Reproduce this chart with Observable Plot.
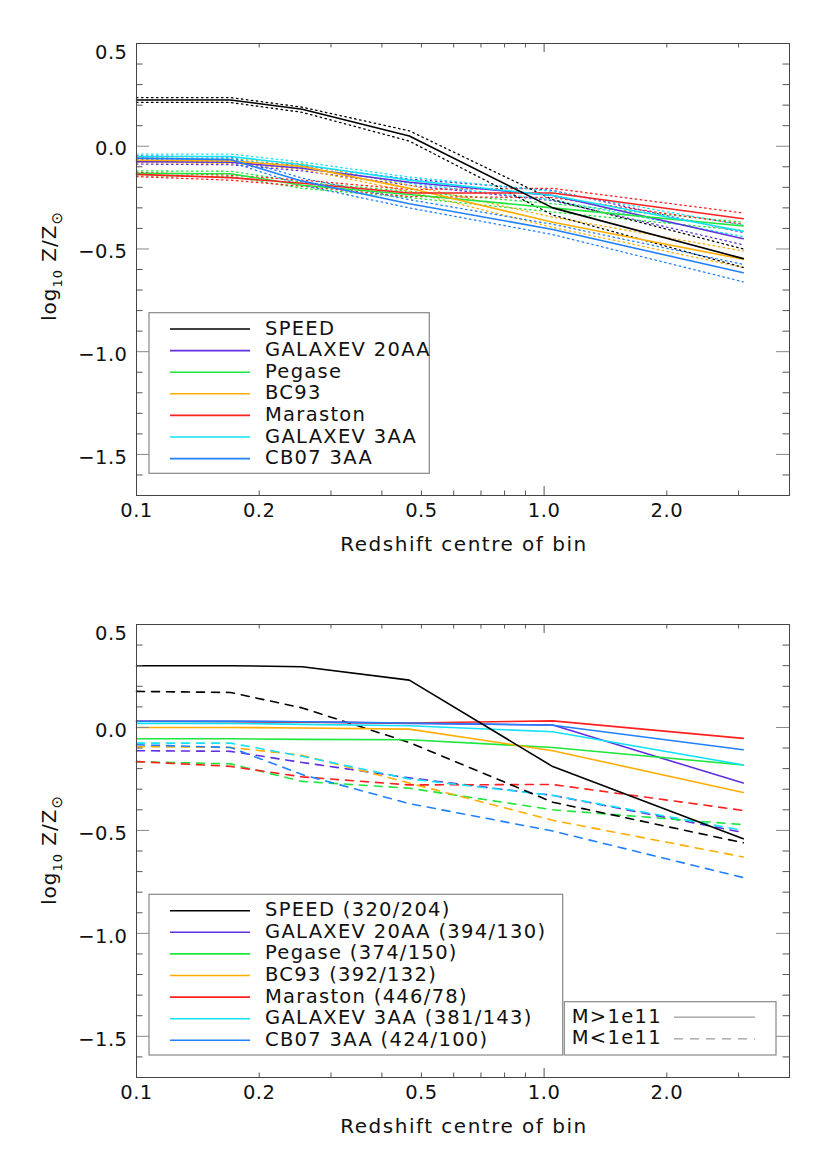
<!DOCTYPE html>
<html><head><meta charset="utf-8">
<script src="https://cdn.jsdelivr.net/npm/d3@7"></script>
<script src="https://cdn.jsdelivr.net/npm/@observablehq/plot@0.6"></script>
<style>
body{margin:0;background:#fff;}
#chart svg{display:block;}
</style></head><body><div id="chart"></div>
<script>
// ---------- data ----------
const redshift = [0.1, 0.17, 0.255, 0.467, 1.05, 3.08];
const models = ["SPEED", "GALAXEV 20AA", "Pegase", "BC93", "Maraston", "GALAXEV 3AA", "CB07 3AA"];
const modelColors = ["#000000", "#5f2fe2", "#1ee63c", "#ffad00", "#ff2020", "#12e2f8", "#2080ff"];
const countsHigh = [320, 394, 374, 392, 446, 381, 424];
const countsLow = [204, 130, 150, 132, 78, 143, 100];
const massLabels = ["M>1e11", "M<1e11"];
const xTickLabels = [0.1, 0.2, 0.5, 1.0, 2.0];
const xMinorTicks = [0.2, 0.3, 0.4, 0.5, 0.6, 0.7, 0.8, 0.9, 2, 3];
const xMajorTicks = [1];
const yTickLabels = [0, -0.5, -1, -1.5];
const yTopLabel = [0.5];
const yMajorTicks = [0.5, 0, -0.5, -1, -1.5];
const yMinorTicks = [0.4, 0.3, 0.2, 0.1, -0.1, -0.2, -0.3, -0.4, -0.6, -0.7, -0.8, -0.9, -1.1, -1.2, -1.3, -1.4, -1.6];

// top panel: all galaxies (solid = mean, dotted = error band)
const top_speed      = [0.225, 0.225, 0.18, 0.05, -0.30, -0.547];
const top_speed_hi   = [0.237, 0.237, 0.19, 0.075, -0.26, -0.50];
const top_speed_lo   = [0.213, 0.213, 0.165, 0.025, -0.335, -0.59];
const top_galaxev20    = [-0.075, -0.078, -0.107, -0.175, -0.24, -0.45];
const top_galaxev20_hi = [-0.065, -0.068, -0.095, -0.16, -0.215, -0.42];
const top_galaxev20_lo = [-0.087, -0.09, -0.12, -0.19, -0.265, -0.48];
const top_pegase    = [-0.132, -0.134, -0.19, -0.235, -0.30, -0.388];
const top_pegase_hi = [-0.12, -0.122, -0.175, -0.22, -0.28, -0.37];
const top_pegase_lo = [-0.145, -0.147, -0.205, -0.25, -0.32, -0.41];
const top_bc93    = [-0.068, -0.072, -0.098, -0.205, -0.37, -0.55];
const top_bc93_hi = [-0.056, -0.06, -0.085, -0.19, -0.345, -0.51];
const top_bc93_lo = [-0.08, -0.084, -0.112, -0.22, -0.395, -0.59];
const top_maraston    = [-0.137, -0.153, -0.18, -0.228, -0.228, -0.353];
const top_maraston_hi = [-0.127, -0.141, -0.165, -0.21, -0.205, -0.325];
const top_maraston_lo = [-0.148, -0.165, -0.195, -0.245, -0.25, -0.38];
const top_galaxev3    = [-0.05, -0.05, -0.09, -0.165, -0.24, -0.414];
const top_galaxev3_hi = [-0.038, -0.038, -0.077, -0.15, -0.22, -0.385];
const top_galaxev3_lo = [-0.062, -0.062, -0.103, -0.18, -0.262, -0.44];
const top_cb07    = [-0.058, -0.065, -0.17, -0.28, -0.405, -0.616];
const top_cb07_hi = [-0.046, -0.053, -0.155, -0.26, -0.38, -0.575];
const top_cb07_lo = [-0.07, -0.077, -0.19, -0.30, -0.43, -0.66];

// bottom panel: M>1e11 (solid) and M<1e11 (dashed)
const high_speed     = [0.30, 0.30, 0.295, 0.23, -0.19, -0.54];
const high_galaxev20 = [0.03, 0.03, 0.027, 0.02, 0.012, -0.27];
const high_pegase    = [-0.055, -0.055, -0.058, -0.06, -0.097, -0.182];
const high_bc93      = [0.0, 0.0, -0.003, -0.008, -0.113, -0.316];
const high_maraston  = [0.03, 0.028, 0.025, 0.022, 0.032, -0.053];
const high_galaxev3  = [0.02, 0.02, 0.015, 0.008, -0.021, -0.182];
const high_cb07      = [0.03, 0.03, 0.028, 0.022, 0.011, -0.108];
const low_speed      = [0.175, 0.17, 0.095, -0.073, -0.363, -0.56];
const low_galaxev20  = [-0.113, -0.116, -0.17, -0.245, -0.33, -0.51];
const low_pegase     = [-0.166, -0.177, -0.262, -0.295, -0.40, -0.472];
const low_bc93       = [-0.093, -0.097, -0.135, -0.27, -0.451, -0.629];
const low_maraston   = [-0.166, -0.189, -0.24, -0.279, -0.277, -0.403];
const low_galaxev3   = [-0.076, -0.076, -0.14, -0.25, -0.33, -0.50];
const low_cb07       = [-0.084, -0.097, -0.229, -0.37, -0.503, -0.729];

// ---------- tables ----------
function rows(values, m, kind) {
  return values.map((v, i) => ({z: redshift[i], v, model: models[m], key: models[m] + "|" + kind}));
}
const topMean = [top_speed, top_galaxev20, top_pegase, top_bc93, top_maraston, top_galaxev3, top_cb07];
const topHi = [top_speed_hi, top_galaxev20_hi, top_pegase_hi, top_bc93_hi, top_maraston_hi, top_galaxev3_hi, top_cb07_hi];
const topLo = [top_speed_lo, top_galaxev20_lo, top_pegase_lo, top_bc93_lo, top_maraston_lo, top_galaxev3_lo, top_cb07_lo];
const highList = [high_speed, high_galaxev20, high_pegase, high_bc93, high_maraston, high_galaxev3, high_cb07];
const lowList = [low_speed, low_galaxev20, low_pegase, low_bc93, low_maraston, low_galaxev3, low_cb07];

const order = [1, 2, 3, 4, 5, 6, 0]; // black drawn last
const topBand = order.flatMap(m => [...rows(topHi[m], m, "hi"), ...rows(topLo[m], m, "lo")]);
const topSolid = order.flatMap(m => rows(topMean[m], m, "mean"));
const botDash = order.flatMap(m => rows(lowList[m], m, "low"));
const botSolid = order.flatMap(m => rows(highList[m], m, "high"));

// ---------- layout ----------
const W = 830, ML = 136, MR = 41;
const FONT = "DejaVu Sans, Liberation Sans, sans-serif";
const fmt = d => (d < 0 ? "\u2212" : "") + Math.abs(d).toFixed(1);

function panel(lineMarks, height, mt, mb) {
  const innerH = height - mt - mb, innerW = W - ML - MR;
  return Plot.plot({
    width: W, height, marginTop: mt, marginBottom: mb, marginLeft: ML, marginRight: MR,
    style: {fontFamily: FONT, fontSize: "19.5px", color: "#111", background: "#fff", letterSpacing: "0.5px"},
    x: {type: "log", domain: [0.1, 4.0]},
    y: {domain: [-1.7, 0.5]},
    color: {domain: models, range: modelColors},
    marks: [
      ...lineMarks,
      Plot.ruleX(xMinorTicks, {x: d => d, insetTop: innerH - 4.5, stroke: "#555"}),
      Plot.ruleX(xMinorTicks, {x: d => d, insetBottom: innerH - 4.5, stroke: "#555"}),
      Plot.ruleX(xMajorTicks, {x: d => d, insetTop: innerH - 9, stroke: "#555"}),
      Plot.ruleX(xMajorTicks, {x: d => d, insetBottom: innerH - 9, stroke: "#555"}),
      Plot.ruleY(yMinorTicks, {y: d => d, insetRight: innerW - 6.5, stroke: "#555"}),
      Plot.ruleY(yMinorTicks, {y: d => d, insetLeft: innerW - 6.5, stroke: "#555"}),
      Plot.ruleY(yMajorTicks, {y: d => d, insetRight: innerW - 13, stroke: "#888"}),
      Plot.ruleY(yMajorTicks, {y: d => d, insetLeft: innerW - 13, stroke: "#888"}),
      Plot.frame({stroke: "#444"}),
      Plot.axisX(xTickLabels, {tickSize: 0, tickPadding: 8, tickFormat: d => d.toFixed(1), label: null}),
      Plot.axisY(yTickLabels, {tickSize: 0, tickPadding: 9, tickFormat: fmt, label: null, dy: 3}),
      Plot.axisY(yTopLabel, {tickSize: 0, tickPadding: 9, tickFormat: fmt, label: null, dy: 9.5}),
      Plot.text(["Redshift centre of bin"], {text: d => d, frameAnchor: "bottom", dy: 55, fill: "#111", fontSize: 20, dx: 1})
    ]
  });
}

function yLabel(svg, cx, cy) {
  const t = d3.select(svg).append("text")
    .attr("transform", `translate(${cx},${cy}) rotate(-90)`)
    .attr("text-anchor", "middle").attr("font-family", FONT).attr("font-size", 20).attr("fill", "#111")
    .attr("letter-spacing", "1px");
  t.append("tspan").text("log");
  t.append("tspan").attr("font-size", 13).attr("dy", 6).text("10");
  t.append("tspan").attr("dy", -6).text(" Z/Z");
  t.append("tspan").attr("font-size", 15).attr("dy", 6).text("\u2299");
}

function legend(svg, x, y, w, h, labels, y0) {
  const g = d3.select(svg).append("g").attr("font-family", FONT).attr("font-size", 19.5)
    .attr("letter-spacing", "1.3px").attr("text-anchor", "start");
  g.append("rect").attr("x", x).attr("y", y).attr("width", w).attr("height", h)
    .attr("fill", "#fff").attr("stroke", "#888").attr("stroke-width", 1.2);
  labels.forEach((lab, i) => {
    const yy = y0 + i * 21.6;
    g.append("line").attr("x1", 170).attr("x2", 250).attr("y1", yy).attr("y2", yy)
      .attr("stroke", modelColors[i]).attr("stroke-width", 1.6);
    g.append("text").attr("x", 265).attr("y", yy - 1.5).attr("dy", "0.36em").attr("fill", "#111").text(lab);
  });
}

// ---------- top panel ----------
const svg1 = panel([
  Plot.line(topBand, {x: "z", y: "v", z: "key", stroke: "model", strokeWidth: 1.3, strokeDasharray: "1.5,3.5"}),
  Plot.line(topSolid, {x: "z", y: "v", z: "key", stroke: "model", strokeWidth: 1.6})
], 580, 43, 85);
d3.select(svg1).selectAll("text").filter(function() { return this.textContent === "Redshift centre of bin"; }).attr("letter-spacing", "1.5px");
yLabel(svg1, 56, 266);
legend(svg1, 149, 312.7, 280.3, 160.6, models, 329);

// ---------- bottom panel ----------
const svg2 = panel([
  Plot.line(botDash, {x: "z", y: "v", z: "key", stroke: "model", strokeWidth: 1.6, strokeDasharray: "8,7"}),
  Plot.line(botSolid, {x: "z", y: "v", z: "key", stroke: "model", strokeWidth: 1.6})
], 583, 44, 86);
d3.select(svg2).selectAll("text").filter(function() { return this.textContent === "Redshift centre of bin"; }).attr("letter-spacing", "1.5px");
yLabel(svg2, 56, 270);
legend(svg2, 149, 314.3, 413.7, 160.7, models.map((m, i) => `${m} (${countsHigh[i]}/${countsLow[i]})`), 330.7);
{
  const g = d3.select(svg2).append("g").attr("font-family", FONT).attr("font-size", 19.5)
    .attr("letter-spacing", "1.3px").attr("text-anchor", "start");
  g.append("rect").attr("x", 564.3).attr("y", 421.7).attr("width", 211.7).attr("height", 53.3)
    .attr("fill", "#fff").attr("stroke", "#888").attr("stroke-width", 1.2);
  const ys = [437.2, 458.8];
  massLabels.forEach((lab, i) => {
    g.append("text").attr("x", 571.7).attr("y", ys[i] - 1.5).attr("dy", "0.36em").attr("fill", "#111").text(lab);
    g.append("line").attr("x1", 674).attr("x2", 755).attr("y1", ys[i]).attr("y2", ys[i])
      .attr("stroke", "#999").attr("stroke-width", 1.2).attr("stroke-dasharray", i ? "9,7" : null);
  });
}

document.getElementById("chart").append(svg1, svg2);
</script></body></html>
